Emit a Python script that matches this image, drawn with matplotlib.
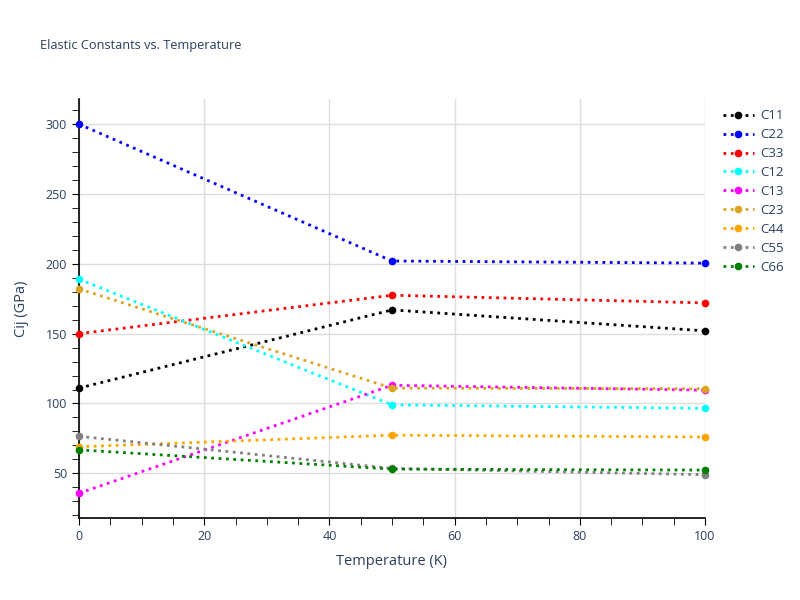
import matplotlib
matplotlib.use("Agg")
import matplotlib.pyplot as plt
from matplotlib.ticker import MultipleLocator

plt.rcParams['font.family'] = ['Open Sans', 'DejaVu Sans']

TEXT = '#2a3f5f'

temperature = [0, 50, 100]

c11 = [111, 167, 152]
c22 = [300, 202, 200.5]
c33 = [150, 177.5, 172]
c12 = [189, 99, 96.5]
c13 = [35.7, 113, 109.5]
c23 = [182, 111, 110.5]
c44 = [69, 77.3, 76]
c55 = [76.5, 53.5, 49]
c66 = [66.8, 53, 52.3]

labels = ['C11', 'C22', 'C33', 'C12', 'C13', 'C23', 'C44', 'C55', 'C66']
series = [c11, c22, c33, c12, c13, c23, c44, c55, c66]
colors = ['black', 'blue', 'red', 'cyan', 'magenta', '#DAA520', 'orange', 'grey', 'green']

fig = plt.figure(figsize=(8, 6), dpi=100)
ax = fig.add_axes([79 / 800, 82 / 600, 626 / 800, 419 / 600])

for name, vals, col in zip(labels, series, colors):
    ax.plot(temperature, vals, linestyle=':', linewidth=2, color=col,
            marker='o', markersize=4.5, label=name, clip_on=False, zorder=3)

ax.set_xlim(0, 100)
ax.set_ylim(18, 318)
ax.xaxis.set_major_locator(MultipleLocator(20))
ax.xaxis.set_minor_locator(MultipleLocator(5))
ax.yaxis.set_major_locator(MultipleLocator(50))
ax.yaxis.set_minor_locator(MultipleLocator(10))
ax.grid(True, which='major', color='#dddddd', linewidth=1)
ax.set_axisbelow(True)

for side in ['top', 'right']:
    ax.spines[side].set_visible(False)
for side in ['left', 'bottom']:
    ax.spines[side].set_color('black')
    ax.spines[side].set_linewidth(1.2)

ax.tick_params(which='both', direction='out', color='black', labelcolor=TEXT,
               labelsize=9)
ax.tick_params(which='major', length=5)
ax.tick_params(which='minor', length=5)

ax.set_xlabel('Temperature (K)', fontsize=10.5, color=TEXT, labelpad=8)
ax.set_ylabel('Cij (GPa)', fontsize=10.5, color=TEXT, labelpad=12)

fig.text(40 / 800, 1 - 45 / 600, 'Elastic Constants vs. Temperature',
         fontsize=9.2, color=TEXT, va='center', ha='left')

leg = fig.legend(loc='upper left', bbox_to_anchor=(718 / 800, 1 - 104 / 600),
                 frameon=False, fontsize=9.5, labelspacing=0.45, handlelength=2.3,
                 handletextpad=0.5, borderaxespad=0)
for t in leg.get_texts():
    t.set_color(TEXT)

fig.savefig('out.png', dpi=100, facecolor='white')
